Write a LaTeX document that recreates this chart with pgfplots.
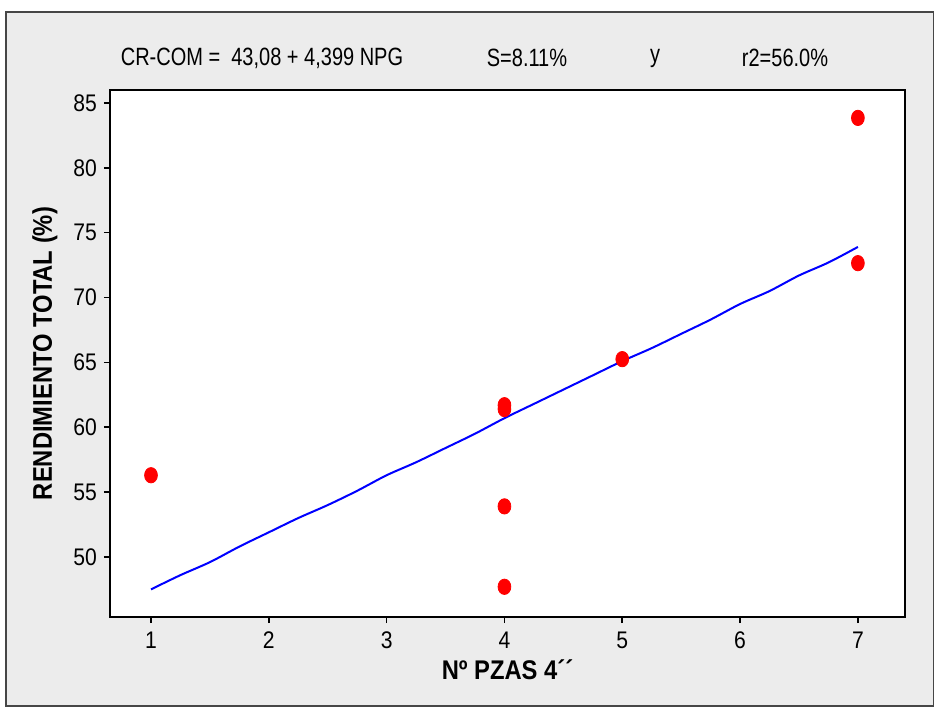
\documentclass[border=0pt]{standalone}
\usepackage{pgfplots}
\pgfplotsset{compat=1.18}
\usepackage{fontspec}
\setmainfont{Liberation Sans}[FakeStretch=0.88]
\newfontfamily\titlefont{Liberation Sans}[FakeStretch=0.8]
\definecolor{bggray}{RGB}{236,236,236}
\definecolor{framegray}{RGB}{70,70,70}
\begin{document}
\begin{tikzpicture}[x=1pt,y=1pt]
\path[use as bounding box] (-55,-45.5) rectangle (412.5,308.5);
\fill[white] (-55,-45.5) rectangle (412.5,308.5);
\filldraw[fill=bggray,draw=framegray,line width=0.8pt] (-52,-44.5) rectangle (411.8,302.5);
\begin{axis}[
  scale only axis, width=397.5pt, height=263.5pt,
  xmin=0.652, xmax=7.40, ymin=45.37, ymax=86.0,
  axis background/.style={fill=white},
  axis line style={line width=0.8pt},
  xtick={1,2,3,4,5,6,7}, ytick={50,55,60,65,70,75,80,85},
  tick align=outside, tickwidth=3pt,
  xtick pos=bottom, ytick pos=left,
  tick style={black, line width=0.8pt},
  /pgf/number format/assume math mode=true,
  tick label style={font=\fontsize{12}{13}\selectfont},
  xticklabel style={yshift=-1pt},
  ylabel={\bfseries RENDIMIENTO TOTAL (\%)},
  xlabel={\bfseries Nº PZAS 4´´},
  label style={font=\fontsize{13.5}{15}\selectfont},
  ylabel style={at={(axis description cs:-0.0818,0.5)}, anchor=center},
  xlabel style={at={(axis description cs:0.5,-0.1006)}, anchor=center},
]
\addplot[blue, line width=1pt, smooth] coordinates {
(1,47.5) (1.25,48.6) (1.5,49.6) (1.75,50.8) (2,51.9) (2.25,53.0) (2.5,54.0)
(2.75,55.1) (3,56.3) (3.25,57.3) (3.5,58.4) (3.75,59.5) (4,60.7) (4.25,61.8)
(4.5,62.9) (4.75,64.0) (5,65.1) (5.25,66.1) (5.5,67.2) (5.75,68.3) (6,69.5)
(6.25,70.5) (6.5,71.7) (6.75,72.7) (7,73.9)};
\addplot[only marks, mark=*, mark size=3.2pt, color=red, mark options={fill=red, draw=red, yscale=1.2}] coordinates {
(1,56.3) (4,61.7) (4,61.4) (4,53.9) (4,47.7) (5,65.25) (7,83.85) (7,72.65)};
\end{axis}
\begin{scope}[every node/.style={font=\titlefont\fontsize{12.5}{14}\selectfont}]
\node at (76,279.5) {CR-COM =\ \ 43,08 + 4,399 NPG};
\node at (208.5,279.5) {S=8.11\%};
\node at (272.5,279.5) {y};
\node at (337.5,279.5) {r2=56.0\%};
\end{scope}
\end{tikzpicture}
\end{document}
